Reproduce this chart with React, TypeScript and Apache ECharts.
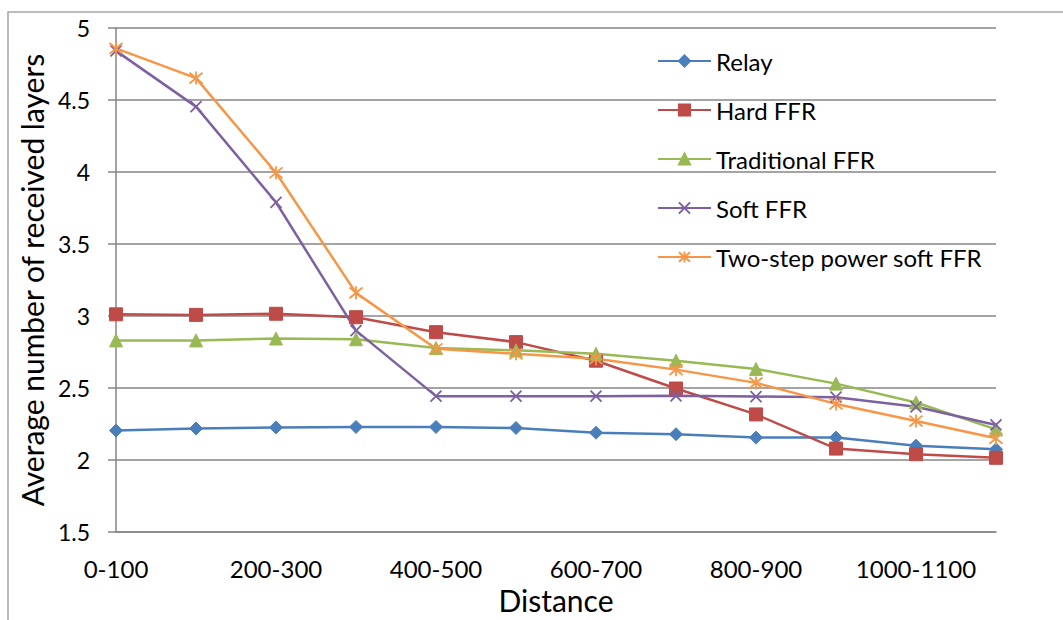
import React, { useEffect, useRef } from "react";
import * as echarts from "echarts";

const categories = [
  "0-100", "100-200", "200-300", "300-400", "400-500", "500-600",
  "600-700", "700-800", "800-900", "900-1000", "1000-1100", "1100-1200",
];
const relay = [2.205, 2.219, 2.227, 2.23, 2.23, 2.223, 2.19, 2.18, 2.156, 2.156, 2.1, 2.075];
const hardFFR = [3.012, 3.008, 3.016, 2.992, 2.888, 2.819, 2.69, 2.497, 2.317, 2.08, 2.041, 2.016];
const traditionalFFR = [2.831, 2.831, 2.844, 2.839, 2.778, 2.762, 2.738, 2.69, 2.633, 2.531, 2.4, 2.213];
const softFFR = [4.841, 4.454, 3.79, 2.899, 2.444, 2.444, 2.444, 2.446, 2.441, 2.437, 2.37, 2.244];
const twoStepFFR = [4.858, 4.652, 3.995, 3.161, 2.773, 2.738, 2.704, 2.628, 2.536, 2.39, 2.271, 2.151];

const FONT = "Lato";
const X_PATH = "path://M0,0L10,10M10,0L0,10";
const STAR_PATH = "path://M0,0L10,10M10,0L0,10M5,-1L5,11";

export default function App() {
  const ref = useRef<HTMLDivElement>(null);
  useEffect(() => {
    document.body.style.margin = "0";
    const chart = echarts.init(ref.current!, undefined, { renderer: "svg" });
    const mk = (name: string, data: number[], color: string, symbol: string, size: number, stroke = false) => ({
      name,
      type: "line",
      data,
      symbol,
      symbolSize: size,
      lineStyle: { color, width: 2.5 },
      itemStyle: stroke
        ? { color, borderColor: color, borderWidth: 1.8 }
        : { color, borderColor: color, borderWidth: 1 },
      emphasis: { disabled: true },
    });
    chart.setOption({
      animation: false,
      backgroundColor: "#ffffff",
      textStyle: { fontFamily: FONT },
      graphic: [
        {
          type: "rect",
          shape: { x: 8, y: 12, width: 1200, height: 800 },
          style: { fill: "none", stroke: "#a6a6a6", lineWidth: 1.5 },
          silent: true,
          z: -10,
        },
      ],
      grid: { left: 116, right: 67, top: 28, bottom: 85 },
      legend: {
        orient: "vertical",
        left: 652,
        top: 44,
        itemWidth: 53,
        itemHeight: 14,
        itemGap: 25,
        textStyle: { fontFamily: FONT, fontSize: 24, color: "#000" },
        data: ["Relay", "Hard FFR", "Traditional FFR", "Soft FFR", "Two-step power soft FFR"],
      },
      xAxis: {
        type: "category",
        data: categories,
        boundaryGap: false,
        name: "Distance",
        nameLocation: "middle",
        nameGap: 52,
        nameTextStyle: { fontFamily: FONT, fontSize: 30, color: "#000" },
        axisLine: { lineStyle: { color: "#868686", width: 1.5 } },
        axisTick: { show: false },
        axisLabel: { interval: 1, margin: 24, fontFamily: FONT, fontSize: 24, color: "#000" },
        splitLine: { show: false },
      },
      yAxis: {
        type: "value",
        min: 1.5,
        max: 5,
        interval: 0.5,
        name: "Average number of received layers",
        nameLocation: "middle",
        nameGap: 66,
        nameTextStyle: { fontFamily: FONT, fontSize: 30, color: "#000" },
        axisLine: { show: true, lineStyle: { color: "#868686", width: 1.5 } },
        axisTick: { show: true, inside: false, length: 8, lineStyle: { color: "#868686", width: 1.5 } },
        axisLabel: { margin: 26, fontFamily: FONT, fontSize: 23, color: "#000" },
        splitLine: { lineStyle: { color: "#868686", width: 1.5 } },
      },
      series: [
        mk("Relay", relay, "#4a7ebb", "diamond", 13),
        mk("Hard FFR", hardFFR, "#be4b48", "rect", 13),
        mk("Traditional FFR", traditionalFFR, "#98b954", "triangle", 13),
        mk("Soft FFR", softFFR, "#7d60a0", X_PATH, 11, true),
        mk("Two-step power soft FFR", twoStepFFR, "#f79646", STAR_PATH, 13, true),
      ],
    });
    return () => chart.dispose();
  }, []);
  return <div ref={ref} style={{ width: 1063, height: 620 }} />;
}
